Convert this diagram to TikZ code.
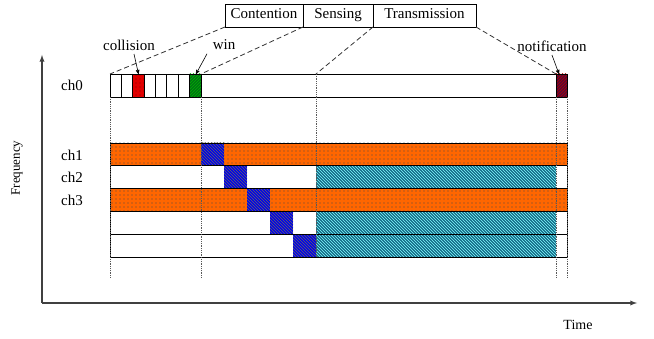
\documentclass[tikz,border=0pt]{standalone}
\usepackage{fontspec}
\setmainfont{Liberation Serif}
\usetikzlibrary{arrows,patterns}
\usetikzlibrary{positioning}

\definecolor{busyorange}{RGB}{255,102,0}
\definecolor{ctrlblue}{RGB}{0,0,235}
\definecolor{datateal}{RGB}{20,105,135}
\definecolor{collred}{RGB}{225,0,0}
\definecolor{wingreen}{RGB}{0,115,20}
\definecolor{notifpurple}{RGB}{85,10,55}

\pgfdeclarepatternformonly{sparse dots}{\pgfqpoint{-1pt}{-1pt}}{\pgfqpoint{1pt}{1pt}}{\pgfqpoint{4pt}{4pt}}%
{\pgfpathcircle{\pgfqpoint{0pt}{0pt}}{.55pt}\pgfusepath{fill}}

\begin{document}
\begin{tikzpicture}[x=1pt,y=-1pt,->,>=stealth',line width=0.8pt,
		font=\fontsize{15}{18}\selectfont]
		\tikzstyle{phase}=[draw,-,minimum height=23pt,inner sep=0pt,outer sep=0pt,
			text height=10.5pt,text depth=3.5pt]
		\tikzstyle{busy}=[fill=busyorange,postaction={pattern=sparse dots,pattern color=black!70}]
		\tikzstyle{ctrl}=[fill=ctrlblue,postaction={pattern=north west lines,pattern color=black!60}]
		\tikzstyle{data}=[fill=datateal,postaction={pattern=north west lines,pattern color=cyan!50}]
		\tikzstyle{guide}=[-,densely dotted,gray!70!black]
		\tikzstyle{link}=[-,dash pattern=on 5pt off 3pt,gray!40!black]
		\tikzstyle{axis}=[-latex,line width=1.3pt,gray!50!black]
		
		\useasboundingbox (0,0) rectangle (654,339);
		
		\node[phase,anchor=north west,minimum width=78pt] (cont) at (225,4) {Contention};
		\node[phase,minimum width=70pt]  (sens)  [right=0pt of cont] {Sensing};
		\node[phase,minimum width=103pt] (trans) [right=0pt of sens] {Transmission};
		
		\node (coll)  at (129,45) {collision};
		\node (win)   at (224,45) {win};
		\node (notif) at (552,46) {notification};
		
		\coordinate (ch0nw) at (110,74);
		\coordinate (redtop) at (138.5,74);
		\coordinate (greentop) at (196,74);
		\coordinate (wintime) at (201,74);
		\coordinate (sensend) at (316,74);
		\coordinate (notiftop) at (559,74);
		\coordinate (notifleft) at (556,74);
		
		% ch0
		\path[fill=collred,postaction={pattern=sparse dots,pattern color=red!50!black}] (132.75,74) rectangle ++(11.375,23);
		\path[fill=wingreen,postaction={pattern=north east lines,pattern color=green!70!black}] (189.6,74) rectangle (201,97);
		\path[fill=notifpurple,postaction={pattern=north east lines,pattern color=red!70!black}] (556,74) rectangle (567,97);
		\draw[-] (110,74) rectangle (567,97);
		\foreach \i in {1,...,8}
			\draw[-] ({110+11.375*\i},74) -- ++(0,23);
		\draw[-] (556,74) -- (556,97);
		
		% ch1 .. ch4
		\foreach \r in {0,2}
			\path[busy] (110,{143+22.8*\r}) rectangle (567,{143+22.8*(\r+1)});
		\foreach \r in {1,3,4}
			\path[data] (316,{143+22.8*\r}) rectangle (556,{143+22.8*(\r+1)});
		\foreach \r in {0,...,4}
			\path[ctrl] ({201+23*\r},{143+22.8*\r}) rectangle ++(23,22.8);
		\foreach \r in {0,...,4}
			\draw[-] (110,{143+22.8*\r}) rectangle (567,{143+22.8*(\r+1)});
		
		\foreach \x in {110,201,556,567}
			\draw[guide] (\x,97) -- (\x,278);
		\draw[guide] (sensend) -- (316,257);
		
		\draw[link] (cont.south west) -- (ch0nw);
		\draw[link] (cont.south east) -- (wintime);
		\draw[link] (sens.south east) -- (sensend);
		\draw[link] (trans.south east) -- (notifleft);
		
		\draw[line width=0.6pt] ([xshift=5pt]coll.south) -- (redtop);
		\draw[line width=0.6pt] ([xshift=-2pt]win.south west) -- (greentop);
		\draw[line width=0.6pt] (notif.south) -- (notiftop);
		
		\node (ch0) at (72,85)  {ch0};
		\node (ch1) at (72,155) {ch1};
		\node (ch2) at (72,177) {ch2};
		\node (ch3) at (72,200) {ch3};
		
		\coordinate (origin) at (42,303);
		\coordinate (ftip) at (42,55);
		\coordinate (ttip) at (637,303);
		\draw[axis] (origin) -- (ftip);
		\draw[axis] (origin) -- (ttip);
		\node[rotate=90,font=\fontsize{13}{16}\selectfont] (freq) at (17,168) {Frequency};
		\node[font=\fontsize{14}{17}\selectfont] (time) at (578,325) {Time};
\end{tikzpicture}
\end{document}
